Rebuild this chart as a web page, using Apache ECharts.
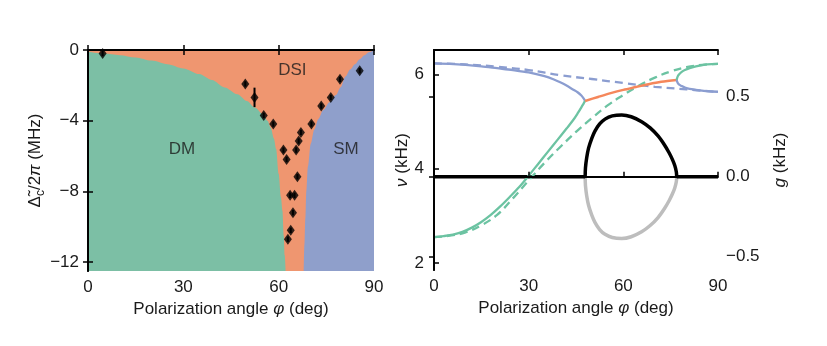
<!DOCTYPE html>
<html><head><meta charset="utf-8">
<script src="https://cdn.jsdelivr.net/npm/echarts@6/dist/echarts.min.js"></script>
<style>html,body{margin:0;padding:0;background:#fff}#c{width:827px;height:346px}</style>
</head><body><div id="c"></div>
<script>
// ---------- Left panel: phase diagram ----------
const angleTicks = [0, 30, 60, 90];
const detuneTicks = [0, -4, -8, -12];
const dmBoundaryX = [0, 5, 10, 15, 20, 25, 30, 35, 39, 43, 47, 50, 52.5, 55, 56.5, 57.5, 58.5, 59.2, 60, 60.7, 61.2, 61.6, 61.9, 62.2];
const dmBoundaryY = [-0.1, -0.2, -0.29, -0.42, -0.6, -0.8, -1.04, -1.36, -1.7, -2.12, -2.5, -2.88, -3.25, -3.62, -4.0, -4.4, -5.0, -5.6, -7.0, -8.3, -9.1, -10.5, -11.6, -12.5];
const smBoundaryX = [67.9, 68.1, 68.4, 68.7, 69.2, 70.1, 71.2, 72.5, 74, 76, 78, 79.5, 81, 82.5, 84, 85.5, 87, 88.5, 90];
const smBoundaryY = [-12.5, -11, -9.5, -8, -6.6, -5.3, -4.5, -3.9, -3.4, -2.95, -2.55, -2.1, -1.5, -1.1, -0.8, -0.52, -0.3, -0.12, 0];
const dsiTopX = [0, 90];
const dsiTopY = [0, 0];
const measX = [4.6, 49.5, 52.4, 55.3, 58.3, 61.5, 62.5, 63.6, 65.0, 64.5, 63.8, 62.9, 65.9, 65.5, 66.3, 67.0, 70.3, 73.4, 76.4, 79.3, 85.5];
const measY = [-0.2, -1.92, -2.68, -3.7, -4.19, -5.66, -6.19, -8.22, -8.22, -9.2, -10.2, -10.7, -7.17, -5.66, -5.15, -4.66, -4.19, -3.17, -2.68, -1.66, -1.17];
const measErr = [0.15, 0.15, 0.55, 0.15, 0.15, 0.15, 0.15, 0.15, 0.15, 0.15, 0.15, 0.15, 0.15, 0.15, 0.15, 0.15, 0.15, 0.15, 0.15, 0.15, 0.15];
const regionNames = ['DM', 'DSI', 'SM'];
const regionX = [29.6, 64.3, 81.2];
const regionY = [-5.6, -1.13, -5.6];

// ---------- Right panel: spectrum and gain ----------
const nuTicks = [2, 4, 6];
const gTicks = [-0.5, 0, 0.5];
const upperBranchX = [0, 5, 10, 15, 20, 25, 30, 35, 38, 40, 42, 44, 45.5, 46.7, 47.4, 47.9];
const upperBranchY = [6.23, 6.22, 6.2, 6.17, 6.13, 6.09, 6.04, 5.96, 5.89, 5.83, 5.76, 5.68, 5.62, 5.55, 5.49, 5.435];
const lowerBranchX = [0, 3, 6, 9, 12, 15, 18, 21, 24, 27, 30, 33, 36, 39, 42, 44, 45.5, 46.7, 47.4, 47.9];
const lowerBranchY = [2.55, 2.57, 2.6, 2.66, 2.75, 2.87, 3.02, 3.2, 3.4, 3.61, 3.85, 4.1, 4.35, 4.6, 4.85, 5.02, 5.17, 5.3, 5.38, 5.435];
const mergedX = [47.9, 52, 56, 60, 64, 68, 72, 76.9];
const mergedY = [5.435, 5.52, 5.6, 5.67, 5.73, 5.79, 5.84, 5.88];
const splitUpX = [76.9, 77.2, 77.7, 78.5, 79.5, 81, 83, 85.5, 88, 90];
const splitUpY = [5.88, 5.95, 6.0, 6.05, 6.09, 6.13, 6.17, 6.2, 6.215, 6.22];
const splitDownX = [76.9, 77.2, 77.7, 78.5, 79.5, 81, 83, 85.5, 88, 90];
const splitDownY = [5.88, 5.82, 5.78, 5.75, 5.72, 5.69, 5.67, 5.65, 5.635, 5.63];
const bareBlueX = [0, 10, 20, 30, 40, 50, 60, 70, 80, 90];
const bareBlueY = [6.23, 6.21, 6.16, 6.09, 5.98, 5.9, 5.815, 5.735, 5.68, 5.625];
const bareGreenX = [0, 5, 10, 15, 20, 25, 30, 35, 40, 45, 50, 55, 60, 65, 70, 75, 80, 85, 90];
const bareGreenY = [2.55, 2.58, 2.65, 2.8, 3.02, 3.37, 3.75, 4.12, 4.46, 4.78, 5.07, 5.34, 5.56, 5.76, 5.93, 6.06, 6.15, 6.2, 6.22];
const gainFlatLeftX = [0, 47.9];
const gainFlatLeftY = [0, 0];
const gainFlatRightX = [76.9, 90];
const gainFlatRightY = [0, 0];
const gainX = [47.9, 48.0, 48.4, 49.0, 50.0, 51.0, 52.5, 54.2, 56.5, 59.5, 62.5, 65.8, 68.5, 71, 73, 74.5, 75.5, 76.3, 76.8, 76.9];
const gainUpY = [0, 0.055, 0.12, 0.18, 0.24, 0.285, 0.33, 0.36, 0.38, 0.386, 0.375, 0.344, 0.305, 0.255, 0.2, 0.15, 0.11, 0.07, 0.03, 0];
const gainDownY = [0, -0.055, -0.12, -0.18, -0.24, -0.285, -0.33, -0.36, -0.38, -0.386, -0.375, -0.344, -0.305, -0.255, -0.2, -0.15, -0.11, -0.07, -0.03, 0];

const zip = (xs, ys) => xs.map((x, i) => [x, ys[i]]);
const FONT = '"Liberation Sans", Arial, sans-serif';
const TXT = '#1a1a1a';
const FS = 17;
const GREEN = '#7cbfa5', ORANGE = '#ef9670', BLUE = '#8f9fcb';
const LGREEN = '#6cc3a2', LORANGE = '#f5875b', LBLUE = '#8b9dd0';
const minus = v => (v < 0 ? '\u2212' + Math.abs(v) : '' + v);

const axisLine = { show: true, lineStyle: { color: '#000', width: 1.8 } };
const tick = extra => Object.assign({ show: true, inside: true, length: 5, lineStyle: { color: '#000', width: 1.5 } }, extra || {});
const lbl = extra => Object.assign({ color: TXT, fontSize: FS, fontFamily: FONT }, extra || {});
const nameStyle = { color: TXT, fontSize: FS, fontFamily: FONT, rich: {
  i: { fontStyle: 'italic', fontSize: FS, fontFamily: FONT, color: TXT },
  s: { fontSize: 12, fontFamily: FONT, color: TXT, padding: [9, 0, 0, 0] }
} };

function xAx(grid, pos, show) {
  return {
    type: 'value', gridIndex: grid, position: pos, min: 0, max: 90, interval: 30, z: 10,
    axisLine, axisTick: tick(), splitLine: { show: false },
    axisLabel: lbl({ show, margin: 8 }),
    name: show ? 'Polarization angle {i|\u03c6} (deg)' : '', nameLocation: 'middle', nameGap: 26,
    nameTextStyle: nameStyle
  };
}

const option = {
  animation: false,
  backgroundColor: '#fff',
  grid: [
    { left: 88, top: 50, width: 286, height: 221 },
    { left: 434, top: 50, width: 284, height: 220 }
  ],
  xAxis: [xAx(0, 'bottom', true), xAx(0, 'top', false), xAx(1, 'bottom', true), xAx(1, 'top', false)],
  yAxis: [
    { type: 'value', gridIndex: 0, position: 'left', min: -12.5, max: 0, z: 10, axisLine, splitLine: { show: false },
      axisTick: tick({ customValues: detuneTicks }),
      axisLabel: lbl({ customValues: detuneTicks, formatter: minus, margin: 9 }),
      name: '\u0394\u0303{s|c}/2{i|\u03c0} (MHz)', nameLocation: 'middle', nameRotate: 90, nameGap: 36, nameTextStyle: nameStyle },
    { type: 'value', gridIndex: 0, position: 'right', min: -12.5, max: 0, z: 10, axisLine, splitLine: { show: false },
      axisTick: tick({ customValues: detuneTicks }), axisLabel: { show: false } },
    { type: 'value', gridIndex: 1, position: 'left', min: 1.852, max: 6.515, z: 10, axisLine, splitLine: { show: false },
      axisTick: tick({ customValues: nuTicks }),
      axisLabel: lbl({ customValues: nuTicks, margin: 10 }),
      name: '{i|\u03bd} (kHz)', nameLocation: 'middle', nameRotate: 90, nameGap: 20, nameTextStyle: nameStyle },
    { type: 'value', gridIndex: 1, position: 'right', min: -0.583, max: 0.792, z: 10, axisLine, splitLine: { show: false },
      axisTick: tick({ customValues: gTicks }),
      axisLabel: lbl({ customValues: gTicks, formatter: v => (v < 0 ? '\u2212' + Math.abs(v).toFixed(1) : v.toFixed(1)), margin: 8 }),
      name: '{i|g} (kHz)', nameLocation: 'middle', nameRotate: 90, nameGap: 54, nameTextStyle: nameStyle }
  ],
  series: [
    // phase regions
    { type: 'line', xAxisIndex: 0, yAxisIndex: 0, data: zip(dsiTopX, dsiTopY), symbol: 'none',
      lineStyle: { width: 0 }, areaStyle: { color: ORANGE, opacity: 1, origin: 'start' }, z: 1 },
    { type: 'line', xAxisIndex: 0, yAxisIndex: 0, data: zip(dmBoundaryX, dmBoundaryY), symbol: 'none', smooth: 0.3, smoothMonotone: 'x',
      lineStyle: { width: 0 }, areaStyle: { color: GREEN, opacity: 1, origin: 'start' }, z: 2 },
    { type: 'line', xAxisIndex: 0, yAxisIndex: 0, data: zip(smBoundaryX, smBoundaryY), symbol: 'none', smooth: 0.3, smoothMonotone: 'x',
      lineStyle: { width: 0 }, areaStyle: { color: BLUE, opacity: 1, origin: 'start' }, z: 2 },
    // error bars
    { type: 'custom', xAxisIndex: 0, yAxisIndex: 0, coordinateSystem: 'cartesian2d', z: 4,
      data: measX.map((x, i) => [x, measY[i] - measErr[i], measY[i] + measErr[i]]),
      encode: { x: 0, y: [1, 2] },
      renderItem: (params, api) => {
        const a = api.coord([api.value(0), api.value(1)]);
        const b = api.coord([api.value(0), api.value(2)]);
        return { type: 'line', shape: { x1: a[0], y1: a[1], x2: b[0], y2: b[1] }, style: { stroke: '#000', lineWidth: 2 } };
      } },
    // measured points
    { type: 'scatter', xAxisIndex: 0, yAxisIndex: 0, data: zip(measX, measY), symbol: 'diamond', symbolSize: [8, 11],
      itemStyle: { color: '#000' }, z: 5 },
    // region labels
    { type: 'scatter', xAxisIndex: 0, yAxisIndex: 0, data: regionX.map((x, i) => ({ value: [x, regionY[i]], name: regionNames[i] })),
      symbolSize: 0, z: 6,
      label: { show: true, position: 'inside', formatter: p => p.name, color: TXT, fontSize: FS, fontFamily: FONT } },

    // right panel: gain
    { type: 'line', xAxisIndex: 2, yAxisIndex: 3, data: zip(gainX, gainDownY), symbol: 'none', smooth: 0.3,
      lineStyle: { color: '#bdbdbd', width: 3.5 }, z: 2 },
    { type: 'line', xAxisIndex: 2, yAxisIndex: 3, data: zip(gainFlatLeftX, gainFlatLeftY), symbol: 'none',
      lineStyle: { color: '#000', width: 3.5 }, z: 3 },
    { type: 'line', xAxisIndex: 2, yAxisIndex: 3, data: zip(gainFlatRightX, gainFlatRightY), symbol: 'none',
      lineStyle: { color: '#000', width: 3.5 }, z: 3 },
    { type: 'line', xAxisIndex: 2, yAxisIndex: 3, data: zip(gainX, gainUpY), symbol: 'none', smooth: 0.3,
      lineStyle: { color: '#000', width: 3.5 }, z: 3 },
    // right panel: frequencies
    { type: 'line', xAxisIndex: 2, yAxisIndex: 2, data: zip(bareBlueX, bareBlueY), symbol: 'none', smooth: 0.4,
      lineStyle: { color: LBLUE, width: 2.3, type: [8, 5] }, z: 4 },
    { type: 'line', xAxisIndex: 2, yAxisIndex: 2, data: zip(bareGreenX, bareGreenY), symbol: 'none', smooth: 0.4,
      lineStyle: { color: LGREEN, width: 2.3, type: [8, 5] }, z: 4 },
    { type: 'line', xAxisIndex: 2, yAxisIndex: 2, data: zip(upperBranchX, upperBranchY), symbol: 'none', smooth: 0.3,
      lineStyle: { color: LBLUE, width: 2.3 }, z: 5 },
    { type: 'line', xAxisIndex: 2, yAxisIndex: 2, data: zip(lowerBranchX, lowerBranchY), symbol: 'none', smooth: 0.3,
      lineStyle: { color: LGREEN, width: 2.3 }, z: 5 },
    { type: 'line', xAxisIndex: 2, yAxisIndex: 2, data: zip(mergedX, mergedY), symbol: 'none', smooth: 0.3,
      lineStyle: { color: LORANGE, width: 2.5 }, z: 5 },
    { type: 'line', xAxisIndex: 2, yAxisIndex: 2, data: zip(splitUpX, splitUpY), symbol: 'none', smooth: 0.3,
      lineStyle: { color: LGREEN, width: 2.3 }, z: 5 },
    { type: 'line', xAxisIndex: 2, yAxisIndex: 2, data: zip(splitDownX, splitDownY), symbol: 'none', smooth: 0.3,
      lineStyle: { color: LBLUE, width: 2.3 }, z: 5 }
  ]
};

const chart = echarts.init(document.getElementById('c'), null, { renderer: 'canvas' });
chart.setOption(option);
</script>
</body></html>
